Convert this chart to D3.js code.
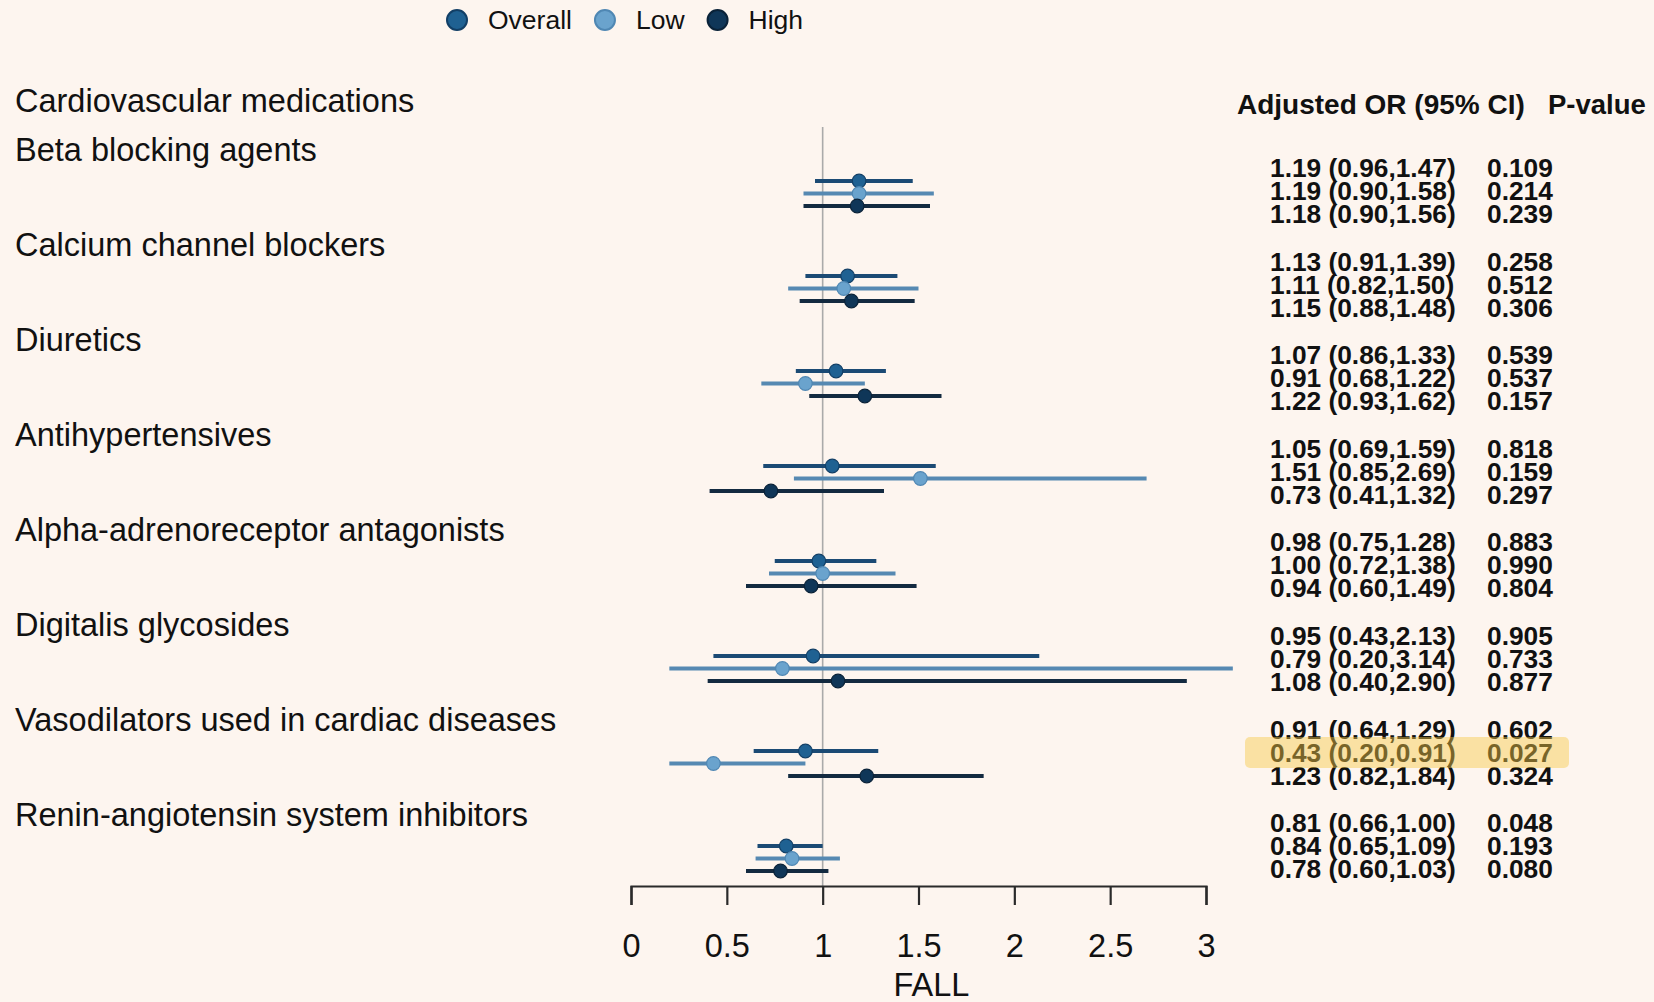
<!DOCTYPE html>
<html><head><meta charset="utf-8">
<script src="https://cdn.jsdelivr.net/npm/d3@7"></script>
<style>
html,body{margin:0;padding:0;background:#fdf5ef;}
svg{display:block;font-family:"Liberation Sans",Arial,sans-serif;}
</style></head>
<body>
<svg id="c" width="1654" height="1002"></svg>
<script>
const categories = ["Beta blocking agents","Calcium channel blockers","Diuretics","Antihypertensives","Alpha-adrenoreceptor antagonists","Digitalis glycosides","Vasodilators used in cardiac diseases","Renin-angiotensin system inhibitors"];
const sectionTitle = "Cardiovascular medications";
const seriesNames = ["Overall","Low","High"];
const overallOR = [1.19,1.13,1.07,1.05,0.98,0.95,0.91,0.81];
const overallLo = [0.96,0.91,0.86,0.69,0.75,0.43,0.64,0.66];
const overallHi = [1.47,1.39,1.33,1.59,1.28,2.13,1.29,1.00];
const overallP  = ["0.109","0.258","0.539","0.818","0.883","0.905","0.602","0.048"];
const lowOR = [1.19,1.11,0.91,1.51,1.00,0.79,0.43,0.84];
const lowLo = [0.90,0.82,0.68,0.85,0.72,0.20,0.20,0.65];
const lowHi = [1.58,1.50,1.22,2.69,1.38,3.14,0.91,1.09];
const lowP  = ["0.214","0.512","0.537","0.159","0.990","0.733","0.027","0.193"];
const highOR = [1.18,1.15,1.22,0.73,0.94,1.08,1.23,0.78];
const highLo = [0.90,0.88,0.93,0.41,0.60,0.40,0.82,0.60];
const highHi = [1.56,1.48,1.62,1.32,1.49,2.90,1.84,1.03];
const highP  = ["0.239","0.306","0.157","0.297","0.804","0.877","0.324","0.080"];
const xTicks = [0,0.5,1,1.5,2,2.5,3];
const xTitle = "FALL";
const headerOR = "Adjusted OR (95% CI)";
const headerP = "P-value";
const highlighted = {category:"Vasodilators used in cardiac diseases", series:"Low"};

const series = [
  {name:"Overall", or:overallOR, lo:overallLo, hi:overallHi, p:overallP, dot:"#1f6192", line:"#1b4a74", stroke:"#123f66"},
  {name:"Low", or:lowOR, lo:lowLo, hi:lowHi, p:lowP, dot:"#6aa3cd", line:"#5689b2", stroke:"#4f87b3"},
  {name:"High", or:highOR, lo:highLo, hi:highHi, p:highP, dot:"#0f3658", line:"#132a40", stroke:"#0a2238"}
];
const rows = [];
categories.forEach((c,ci)=>series.forEach(s=>rows.push({cat:c,ci,s,or:s.or[ci],lo:s.lo[ci],hi:s.hi[ci],p:s.p[ci]})));

const svg = d3.select("#c");
const x = d3.scaleLinear().domain([0,3]).range([631,1206]);
const yGroup = d3.scaleLinear().domain([0,categories.length-1]).range([181,846]);
const yRow = d3.scalePoint().domain(seriesNames).range([0,25]);
const yTextGroup = d3.scaleLinear().domain([0,categories.length-1]).range([168,823]);
const yTextRow = d3.scalePoint().domain(seriesNames).range([0,46]);
const fmt = d3.format(".2f");

// legend
const leg = svg.append("g");
let lx = 457;
series.forEach(s=>{
  leg.append("circle").attr("cx",lx).attr("cy",20).attr("r",10).attr("fill",s.dot).attr("stroke",s.stroke).attr("stroke-width",2);
  const t = leg.append("text").attr("x",lx+31).attr("y",20).attr("dy","0.35em").attr("font-size",26.5).attr("fill","#111").text(s.name);
  lx = lx + 31 + t.node().getComputedTextLength() + 33;
});

// section title and category labels
svg.append("text").attr("x",15).attr("y",101).attr("dy","0.35em").attr("font-size",32.5).attr("fill","#111").text(sectionTitle);
svg.selectAll("text.cat").data(categories).join("text").attr("class","cat")
  .attr("x",15).attr("y",(d,i)=>yGroup(i)-31).attr("dy","0.35em").attr("font-size",32.5).attr("fill","#111").text(d=>d);

// reference line
svg.append("line").attr("x1",x(1)).attr("x2",x(1)).attr("y1",127).attr("y2",886).attr("stroke","#aaaaaa").attr("stroke-width",1.6);

// CIs
svg.selectAll("line.ci").data(rows).join("line").attr("class","ci")
  .attr("x1",d=>x(d.lo)).attr("x2",d=>x(d.hi))
  .attr("y1",d=>yGroup(d.ci)+yRow(d.s.name)).attr("y2",d=>yGroup(d.ci)+yRow(d.s.name))
  .attr("stroke",d=>d.s.line).attr("stroke-width",3.8);
svg.selectAll("circle.pt").data(rows).join("circle").attr("class","pt")
  .attr("cx",d=>x(d.or)).attr("cy",d=>yGroup(d.ci)+yRow(d.s.name)).attr("r",6.8)
  .attr("fill",d=>d.s.dot).attr("stroke",d=>d.s.stroke).attr("stroke-width",1.2);

// axis
const axis = d3.axisBottom(x).tickValues(xTicks).tickFormat(d3.format("")).tickSize(19).tickPadding(29);
const ag = svg.append("g").attr("transform","translate(0,886)").call(axis);
ag.select(".domain").attr("stroke","#2a2a2a").attr("stroke-width",2.2);
ag.selectAll(".tick line").attr("stroke","#2a2a2a").attr("stroke-width",2.2);
ag.selectAll(".tick text").attr("font-size",32.5).attr("fill","#111").attr("font-family","Liberation Sans, Arial, sans-serif");
svg.append("text").attr("x",(x.range()[0]+x.range()[1])/2+13).attr("y",985).attr("dy","0.35em").attr("text-anchor","middle").attr("font-size",32.5).attr("fill","#111").text(xTitle);

// header
svg.append("text").attr("x",1237).attr("y",104).attr("dy","0.35em").attr("font-size",28).attr("font-weight","bold").attr("fill","#111").text(headerOR);
svg.append("text").attr("x",1548).attr("y",104).attr("dy","0.35em").attr("font-size",27.5).attr("font-weight","bold").attr("fill","#111").text(headerP);

// values
const tg = svg.append("g");
tg.selectAll("text.or").data(rows).join("text").attr("class","or")
  .attr("x",1270).attr("y",d=>yTextGroup(d.ci)+yTextRow(d.s.name)).attr("dy","0.35em")
  .attr("font-size",26.3).attr("font-weight","bold").attr("fill","#111")
  .text(d=>`${fmt(d.or)} (${fmt(d.lo)},${fmt(d.hi)})`);
tg.selectAll("text.pv").data(rows).join("text").attr("class","pv")
  .attr("x",1487).attr("y",d=>yTextGroup(d.ci)+yTextRow(d.s.name)).attr("dy","0.35em")
  .attr("font-size",26.3).attr("font-weight","bold").attr("fill","#111").text(d=>d.p);

// highlight
const hi = rows.find(d=>d.cat===highlighted.category && d.s.name===highlighted.series);
const hy = yTextGroup(hi.ci)+yTextRow(hi.s.name);
svg.append("rect").attr("x",1245).attr("y",hy-15.5).attr("width",324).attr("height",31).attr("rx",5)
  .attr("fill","#f7c948").attr("fill-opacity",0.45);
</script>
</body></html>
